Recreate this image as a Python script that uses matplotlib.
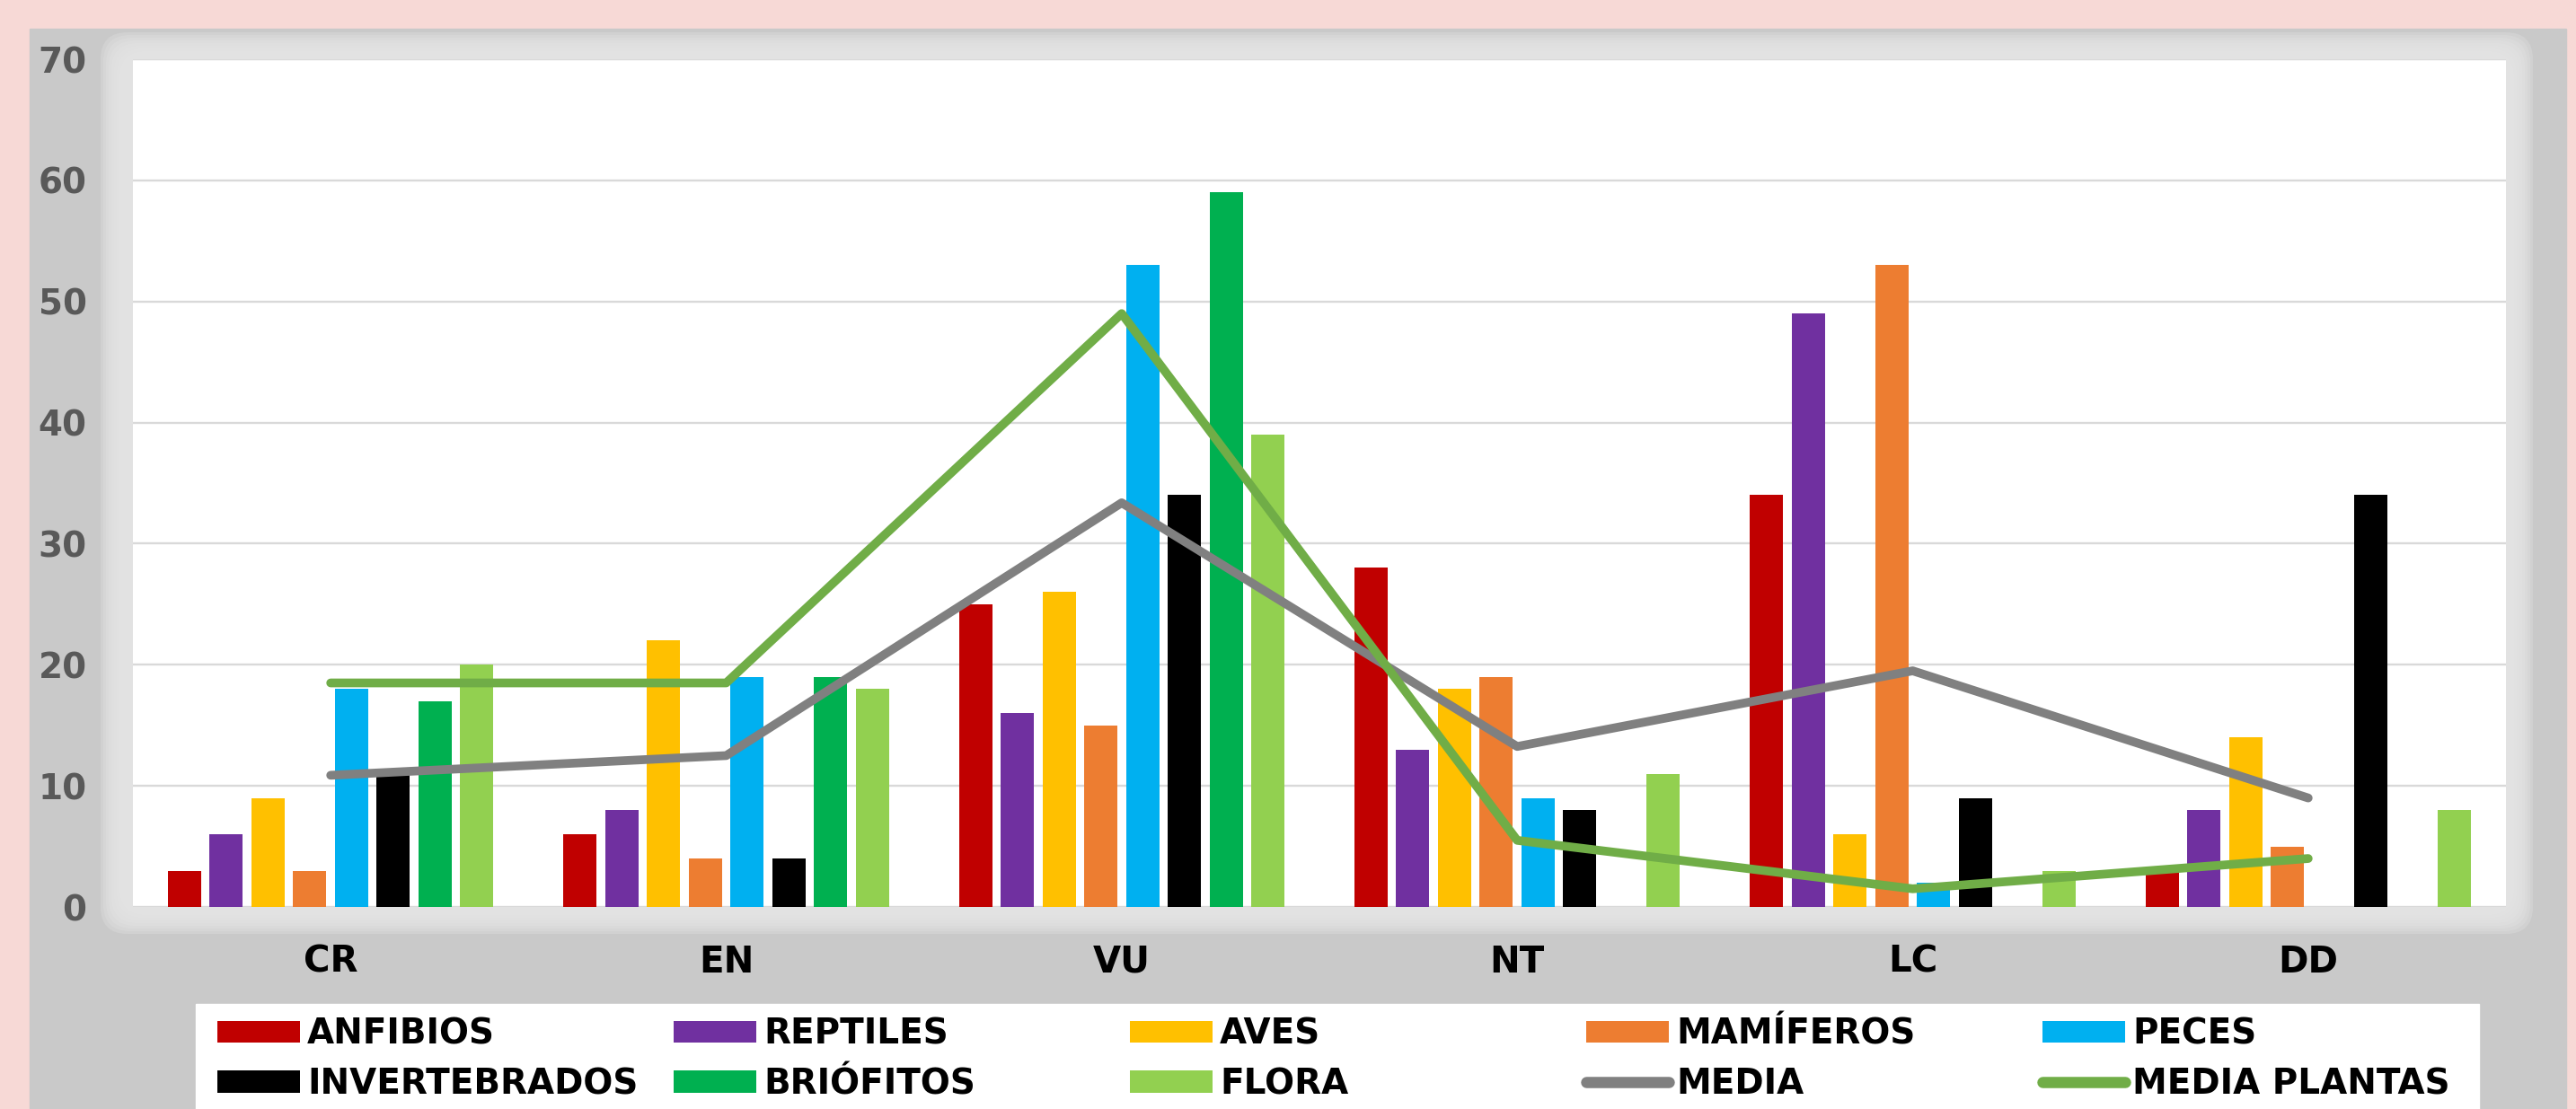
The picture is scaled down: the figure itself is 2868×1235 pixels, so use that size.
import numpy as np
import matplotlib
matplotlib.use("Agg")
import matplotlib.pyplot as plt
from matplotlib.patches import Rectangle, FancyBboxPatch, Patch
from matplotlib.lines import Line2D

categorias = ["CR", "EN", "VU", "NT", "LC", "DD"]

anfibios      = [3, 6, 25, 28, 34, 3]
reptiles      = [6, 8, 16, 13, 49, 8]
aves          = [9, 22, 26, 18, 6, 14]
mamiferos     = [3, 4, 15, 19, 53, 5]
peces         = [18, 19, 53, 9, 2, 0]
invertebrados = [11, 4, 34, 8, 9, 34]
briofitos     = [17, 19, 59, 0, 0, 0]
flora         = [20, 18, 39, 11, 3, 8]

series = [
    ("ANFIBIOS", anfibios, "#c00000"),
    ("REPTILES", reptiles, "#7030a0"),
    ("AVES", aves, "#ffc000"),
    ("MAMÍFEROS", mamiferos, "#ed7d31"),
    ("PECES", peces, "#00b0f0"),
    ("INVERTEBRADOS", invertebrados, "#000000"),
    ("BRIÓFITOS", briofitos, "#00b050"),
    ("FLORA", flora, "#92d050"),
]

# medias como en la hoja: todas las series y solo plantas
media = np.mean([s[1] for s in series], axis=0)
media_plantas = np.mean([briofitos, flora], axis=0)

plt.rcParams["font.family"] = ["DejaVu Sans"]
plt.rcParams["font.weight"] = "bold"

W, H = 2868, 1235
fig = plt.figure(figsize=(W / 100, H / 100), dpi=100, facecolor="#f7d9d6")

# panel gris de fondo
fig.patches.append(Rectangle((33 / W, 0), (2857 - 33) / W, (H - 32) / H,
                             transform=fig.transFigure, color="#c9c9c9", zorder=0))

# area del grafico (pixeles)
L, R, T, B = 148, 2790, 66, 1010

# halo claro alrededor del area blanca
for i in range(8):
    e = 30 - i * 3
    fig.patches.append(FancyBboxPatch(((L - e - 6) / 100, (H - B - e) / 100),
                                      (R - L + 2 * e + 6) / 100, (B - T + 2 * e) / 100,
                                      boxstyle="round,pad=0,rounding_size=0.3",
                                      transform=fig.dpi_scale_trans,
                                      facecolor="#e6e6e6", edgecolor="none",
                                      alpha=0.28, zorder=0.5))

ax = fig.add_axes([L / W, 1 - B / H, (R - L) / W, (B - T) / H])
ax.set_zorder(2)
ax.set_facecolor("white")

x = np.arange(len(categorias))
paso = 0.1056
ancho = 0.084
for i, (nombre, vals, col) in enumerate(series):
    ax.bar(x + (i - 3.5) * paso, vals, width=ancho, color=col, zorder=2, label=nombre)

ax.plot(x, media, color="#808080", lw=7, solid_capstyle="round",
        solid_joinstyle="round", zorder=3)
ax.plot(x, media_plantas, color="#70ad47", lw=7, solid_capstyle="round",
        solid_joinstyle="round", zorder=4)

ax.set_xlim(-0.5, len(categorias) - 0.5)
ax.set_ylim(0, 70)
ax.set_yticks(range(0, 71, 10))
ax.set_xticks(x)
ax.set_xticklabels(categorias)
ax.grid(axis="y", color="#d9d9d9", lw=1.7, zorder=0)
ax.set_axisbelow(True)
for s in ax.spines.values():
    s.set_visible(False)
ax.tick_params(axis="y", labelsize=28, colors="#595959", length=0, pad=37)
ax.tick_params(axis="x", labelsize=29, colors="black", length=0, pad=30)

# leyenda: caja blanca y 5 columnas a igual distancia
fig.patches.append(Rectangle((218 / W, 0), (2760 - 218) / W, (H - 1118) / H,
                             transform=fig.transFigure, color="white", zorder=1))

handles = [Patch(facecolor=c, edgecolor="none") for _, _, c in series]
handles += [Line2D([], [], color="#808080", lw=9, solid_capstyle="round"),
            Line2D([], [], color="#70ad47", lw=9, solid_capstyle="round")]
labels = [s[0] for s in series] + ["MEDIA", "MEDIA PLANTAS"]

fs = 28
for c in range(5):
    x0 = (242 + c * 508) / W
    leg = fig.legend([handles[c], handles[c + 5]], [labels[c], labels[c + 5]],
                     loc="center left", bbox_to_anchor=(x0, 1 - 1179.5 / H),
                     frameon=False, fontsize=fs, handlelength=2.37,
                     handleheight=0.6, handletextpad=0.2, labelspacing=0.45,
                     borderpad=0, borderaxespad=0)
    leg.set_zorder(5)

fig.savefig("out.png", dpi=100, facecolor=fig.get_facecolor())
